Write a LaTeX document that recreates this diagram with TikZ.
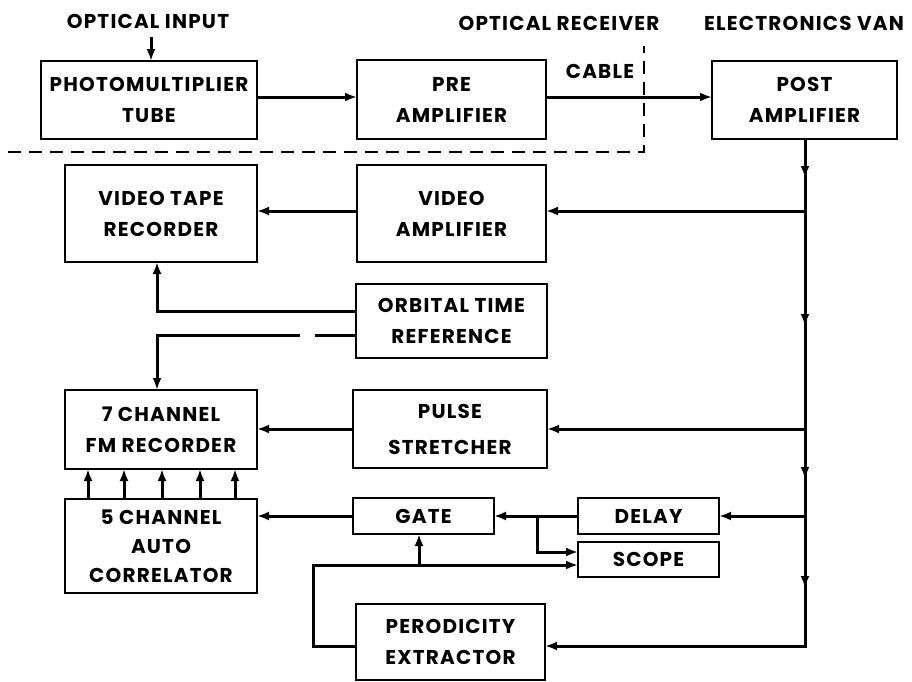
\documentclass[tikz,border=0pt]{standalone}
\usepackage{fontspec}
\setmainfont{Poppins}[LetterSpace=6]
\usetikzlibrary{arrows.meta}
\begin{document}
\begin{tikzpicture}[x=1pt,y=-1pt,
  box/.style={draw,line width=2.2pt,inner sep=0pt,outer sep=0pt,align=center,
    font=\bfseries\fontsize{20}{31}\selectfont},
  wire/.style={line width=3pt},
  arr/.style={wire,-{Latex[length=12pt,width=9pt]}},
  lbl/.style={font=\bfseries\fontsize{20}{24}\selectfont,inner sep=0pt}]
\useasboundingbox[fill=white] (0,0) rectangle (912,681);

% labels
\node[lbl] (oi) at (148,21) {OPTICAL INPUT};
\node[lbl] (orx) at (559,23) {OPTICAL RECEIVER};
\node[lbl] (ev) at (804,23) {ELECTRONICS VAN};
\node[lbl] (cab) at (600,71) {CABLE};

% boxes
\node[box,minimum width=216pt,minimum height=78pt] (pmt) at (149,100) {PHOTOMULTIPLIER\\TUBE};
\node[box,minimum width=189pt,minimum height=79pt] (pre) at (451.5,99.5) {PRE\\AMPLIFIER};
\node[box,minimum width=185pt,minimum height=78pt] (post) at (804.5,100) {POST\\AMPLIFIER};
\node[box,minimum width=192pt,minimum height=97pt] (vtr) at (161,213.5) {VIDEO TAPE\\RECORDER};
\node[box,minimum width=189pt,minimum height=97pt] (vamp) at (451.5,213.5) {VIDEO\\AMPLIFIER};
\node[box,minimum width=191pt,minimum height=74pt] (ort) at (451.5,321) {ORBITAL TIME\\REFERENCE};
\node[box,minimum width=192pt,minimum height=79pt] (fm) at (161,429.5) {7 CHANNEL\\FM RECORDER};
\node[box,minimum width=194pt,minimum height=78pt,font=\bfseries\fontsize{20}{36}\selectfont] (ps) at (450,429) {PULSE\\STRETCHER};
\node[box,minimum width=192pt,minimum height=94pt,font=\bfseries\fontsize{20}{29}\selectfont] (ac) at (161,546) {5 CHANNEL\\AUTO\\CORRELATOR};
\node[box,minimum width=141pt,minimum height=36pt] (gate) at (423.5,516) {GATE};
\node[box,minimum width=141pt,minimum height=36pt] (delay) at (648.5,516) {DELAY};
\node[box,minimum width=141pt,minimum height=35pt] (scope) at (648.5,559.5) {SCOPE};
\node[box,minimum width=189pt,minimum height=76pt] (pe) at (450.5,642) {PERODICITY\\EXTRACTOR};

% dashed boundary
\draw[line width=2pt,dash pattern=on 13pt off 8pt] (8,152) -- (644,152) -- (644,46);

% connectors
\coordinate (oiend) at (151,37);
\draw[arr] (oiend) -- (oiend |- pmt.north);
\draw[arr] (pmt.east |- 0,97) -- (pre.west |- 0,97);
\draw[arr] (pre.east |- 0,97) -- (post.west |- 0,97);

% bus
\draw[arr] (post.south -| 805,0) |- (pe.east |- 0,646);
\foreach \yy in {178,326,479,588} \draw[arr] (805,\yy-14) -- (805,\yy);
\draw[arr] (805,211) -- (vamp.east |- 0,211);
\draw[arr] (805,429) -- (ps.east |- 0,429);
\draw[arr] (805,516) -- (delay.east);

\draw[arr] (vamp.west |- 0,211) -- (vtr.east |- 0,211);
\draw[arr] (ps.west |- 0,429) -- (fm.east |- 0,429);
\draw[arr] (gate.west) -- (ac.east |- gate.west);
\draw[arr] (delay.west) -- (gate.east);
\coordinate (br) at (537,516);
\draw[arr] (br) -- (537,552) -- (scope.west |- 0,552);

% orbital time reference
\draw[arr] (ort.west |- 0,311) -| (157,0 |- vtr.south);
\draw[wire] (ort.west |- 0,335) -- (315,335);
\draw[arr] (300,335) -| (157,0 |- fm.north);

% auto correlator -> fm
\foreach \xx in {88,124,162,200,235} \draw[arr] (\xx,0 |- ac.north) -- (\xx,0 |- fm.south);

% periodicity extractor
\draw[arr] (pe.west |- 0,646) -| (313,565) -- (scope.west |- 0,565);
\draw[arr] (419,565) -- (419,0 |- gate.south);
\end{tikzpicture}
\end{document}
